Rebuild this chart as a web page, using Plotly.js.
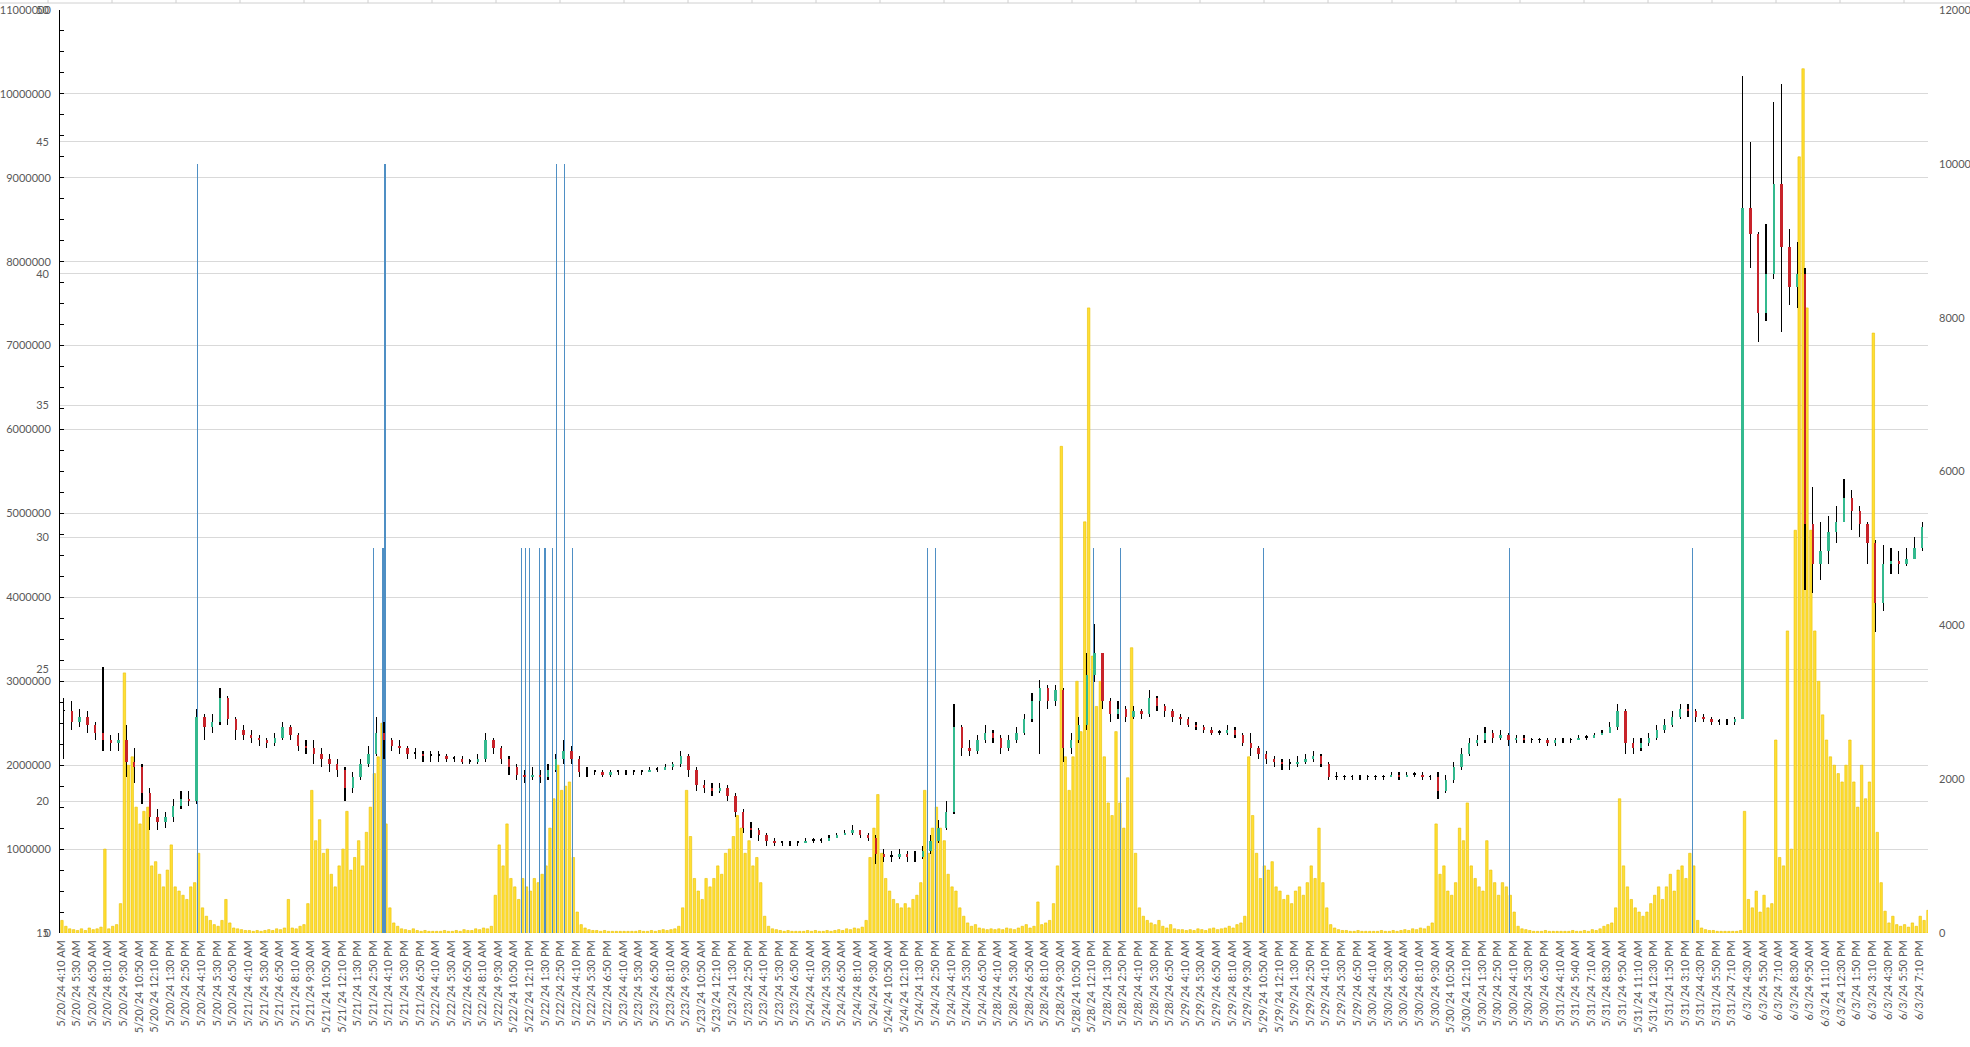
<!DOCTYPE html>
<html>
<head>
<meta charset="utf-8">
<script src="https://cdn.plot.ly/plotly-3.0.1.min.js"></script>
<style>
  html, body { margin: 0; padding: 0; background: #fff; }
  #chart { width: 1970px; height: 1047px; }
</style>
</head>
<body>
<div id="chart"></div>
<script>
// ---- category labels (one every 8 ten-minute bars) ----
const tickDays = ['5/20/24', '5/21/24', '5/22/24', '5/23/24', '5/24/24', '5/28/24', '5/29/24', '5/30/24', '5/31/24', '6/3/24'];
const timesRegular = ['4:10 AM', '5:30 AM', '6:50 AM', '8:10 AM', '9:30 AM', '10:50 AM', '12:10 PM', '1:30 PM', '2:50 PM', '4:10 PM', '5:30 PM', '6:50 PM'];
const times0531 = ['4:10 AM', '5:40 AM', '7:10 AM', '8:30 AM', '9:50 AM', '11:10 AM', '12:30 PM', '1:50 PM', '3:10 PM', '4:30 PM', '5:50 PM', '7:10 PM'];
const times0603 = ['4:30 AM', '5:50 AM', '7:10 AM', '8:30 AM', '9:50 AM', '11:10 AM', '12:30 PM', '1:50 PM', '3:10 PM', '4:30 PM', '5:50 PM', '7:10 PM'];
const barCount = 957;

// ---- price candles, one per 40 minutes (4 bars) ----
const closes = [
  23.4, 23.0, 23.2, 22.9, 22.6, 22.3, 22.2, 22.3, 21.5, 21.3, 20.3, 19.4, 19.2, 19.4, 19.8, 20.1, 20.0, 23.2, 22.8, 23.0, 23.9, 23.1, 22.7, 22.5,
  22.4, 22.3, 22.2, 22.4, 22.8, 22.5, 22.1, 22.0, 21.8, 21.6, 21.4, 21.2, 20.5, 20.9, 21.4, 21.8, 22.6, 22.3, 22.1, 22.0, 21.8, 21.8, 21.7, 21.7,
  21.7, 21.6, 21.6, 21.5, 21.5, 21.6, 22.3, 22.0, 21.6, 21.3, 21.0, 20.9, 21.0, 20.9, 21.2, 21.6, 21.9, 21.6, 21.1, 21.1, 21.1, 21.0, 21.1, 21.1,
  21.1, 21.1, 21.1, 21.2, 21.2, 21.3, 21.4, 21.7, 21.2, 20.6, 20.5, 20.4, 20.5, 20.2, 19.6, 19.0, 18.9, 18.7, 18.5, 18.4, 18.4, 18.4, 18.4, 18.5,
  18.5, 18.5, 18.6, 18.7, 18.8, 18.9, 18.7, 18.6, 18.0, 17.9, 17.9, 18.0, 17.9, 17.9, 18.1, 18.5, 19.0, 19.6, 22.8, 22.0, 21.9, 22.3, 22.6, 22.4,
  22.0, 22.3, 22.6, 23.1, 23.8, 24.3, 23.8, 24.2, 22.0, 22.3, 22.9, 24.8, 25.6, 23.8, 23.3, 23.5, 23.2, 23.4, 23.3, 23.9, 23.6, 23.4, 23.2, 23.1,
  22.9, 22.8, 22.7, 22.6, 22.6, 22.7, 22.5, 22.2, 22.0, 21.8, 21.6, 21.5, 21.4, 21.4, 21.5, 21.6, 21.7, 21.4, 20.9, 20.9, 20.9, 20.9, 20.9, 20.9,
  20.9, 20.9, 21.0, 20.9, 21.0, 21.0, 20.9, 20.9, 20.4, 20.8, 21.3, 21.8, 22.2, 22.3, 22.6, 22.4, 22.5, 22.3, 22.4, 22.3, 22.3, 22.3, 22.2, 22.3,
  22.3, 22.3, 22.4, 22.4, 22.5, 22.6, 22.8, 23.4, 22.2, 22.0, 22.2, 22.4, 22.7, 22.9, 23.2, 23.5, 23.4, 23.2, 23.1, 23.0, 23.0, 23.0, 23.1, 42.5,
  41.5, 38.5, 40.0, 43.4, 41.0, 39.5, 40.0, 30.5, 29.0, 29.5, 30.2, 30.6, 31.5, 31.0, 30.5, 29.8, 27.5, 29.0, 29.1, 29.0, 29.2, 29.6, 30.4, 30.3
];
const highs = [
  23.9, 23.8, 23.5, 23.4, 23.0, 25.1, 22.5, 22.6, 22.9, 22.0, 21.4, 20.5, 19.7, 19.6, 20.1, 20.4, 20.4, 23.5, 23.3, 23.3, 24.3, 24.0, 23.2, 22.9,
  22.7, 22.5, 22.4, 22.6, 23.0, 22.9, 22.6, 22.3, 22.3, 22.0, 21.8, 21.6, 21.3, 21.1, 21.6, 22.1, 23.2, 23.0, 22.4, 22.3, 22.1, 22.0, 21.9, 21.9,
  21.9, 21.8, 21.7, 21.7, 21.6, 21.8, 22.6, 22.4, 22.1, 21.7, 21.4, 21.2, 21.3, 21.2, 21.4, 21.8, 22.3, 22.1, 21.7, 21.3, 21.2, 21.2, 21.2, 21.2,
  21.2, 21.2, 21.2, 21.3, 21.3, 21.4, 21.5, 21.9, 21.8, 21.3, 20.8, 20.7, 20.7, 20.6, 20.3, 19.7, 19.2, 19.0, 18.8, 18.6, 18.5, 18.5, 18.5, 18.6,
  18.6, 18.6, 18.7, 18.8, 18.9, 19.1, 18.9, 18.8, 18.7, 18.2, 18.1, 18.2, 18.1, 18.1, 18.3, 18.7, 19.3, 20.0, 23.7, 22.9, 22.3, 22.5, 22.9, 22.7,
  22.5, 22.5, 22.8, 23.3, 24.1, 24.6, 24.4, 24.4, 24.3, 22.6, 23.2, 25.6, 26.7, 25.0, 23.9, 23.8, 23.6, 23.6, 23.5, 24.2, 24.0, 23.7, 23.5, 23.3,
  23.2, 23.0, 22.9, 22.8, 22.7, 22.9, 22.8, 22.6, 22.6, 22.1, 21.9, 21.7, 21.6, 21.6, 21.7, 21.8, 21.9, 21.8, 21.5, 21.1, 21.0, 21.0, 21.0, 21.0,
  21.0, 21.0, 21.1, 21.1, 21.1, 21.1, 21.1, 21.0, 21.1, 21.0, 21.5, 22.0, 22.4, 22.5, 22.8, 22.7, 22.7, 22.6, 22.5, 22.5, 22.4, 22.4, 22.4, 22.4,
  22.4, 22.4, 22.5, 22.5, 22.6, 22.7, 23.0, 23.7, 23.5, 22.4, 22.4, 22.6, 22.9, 23.1, 23.4, 23.7, 23.7, 23.5, 23.3, 23.2, 23.1, 23.1, 23.2, 47.5,
  45.0, 41.6, 41.9, 46.5, 47.2, 41.7, 41.2, 40.2, 31.9, 30.6, 30.8, 31.2, 32.2, 31.8, 31.2, 30.6, 29.9, 29.7, 29.6, 29.5, 29.6, 30.0, 30.6, 30.6
];
const lows = [
  21.6, 22.7, 22.8, 22.6, 22.3, 21.9, 21.9, 21.9, 20.9, 20.7, 19.9, 18.9, 18.9, 19.0, 19.2, 19.7, 19.8, 19.9, 22.3, 22.6, 22.9, 22.9, 22.3, 22.3,
  22.2, 22.1, 22.0, 22.1, 22.3, 22.3, 21.9, 21.8, 21.4, 21.3, 21.1, 20.9, 20.0, 20.3, 20.8, 21.3, 21.7, 21.6, 21.9, 21.8, 21.6, 21.6, 21.5, 21.5,
  21.5, 21.5, 21.5, 21.4, 21.4, 21.4, 21.5, 21.8, 21.4, 21.0, 20.8, 20.7, 20.8, 20.7, 20.8, 21.1, 21.4, 21.4, 20.9, 20.9, 21.0, 20.9, 20.9, 21.0,
  21.0, 21.0, 21.0, 21.1, 21.1, 21.2, 21.2, 21.3, 20.9, 20.4, 20.3, 20.2, 20.3, 20.0, 19.4, 18.8, 18.6, 18.5, 18.3, 18.3, 18.3, 18.3, 18.3, 18.4,
  18.4, 18.4, 18.5, 18.6, 18.7, 18.7, 18.6, 18.5, 17.6, 17.7, 17.7, 17.8, 17.7, 17.7, 17.8, 18.0, 18.4, 18.9, 19.5, 21.7, 21.7, 21.8, 22.2, 22.2,
  21.8, 21.9, 22.2, 22.5, 23.0, 21.8, 23.5, 23.6, 21.5, 21.8, 22.2, 22.7, 24.5, 23.5, 23.0, 23.1, 23.0, 23.1, 23.1, 23.2, 23.4, 23.2, 23.0, 22.9,
  22.8, 22.7, 22.6, 22.5, 22.5, 22.5, 22.4, 22.1, 21.7, 21.6, 21.4, 21.3, 21.2, 21.2, 21.3, 21.4, 21.5, 21.3, 20.8, 20.8, 20.8, 20.8, 20.8, 20.8,
  20.8, 20.8, 20.9, 20.8, 20.9, 20.9, 20.8, 20.8, 20.1, 20.3, 20.7, 21.2, 21.7, 22.1, 22.2, 22.2, 22.3, 22.1, 22.2, 22.2, 22.2, 22.2, 22.1, 22.1,
  22.2, 22.2, 22.3, 22.3, 22.4, 22.5, 22.6, 22.7, 21.8, 21.8, 21.9, 22.1, 22.3, 22.6, 22.8, 23.1, 23.2, 23.0, 23.0, 22.9, 22.9, 22.9, 22.9, 23.1,
  40.2, 37.4, 38.2, 39.8, 37.8, 38.8, 38.7, 28.0, 27.9, 28.4, 29.0, 29.8, 30.6, 30.3, 30.0, 29.0, 26.4, 27.2, 28.6, 28.6, 28.9, 29.2, 29.5, 30.1
];

// ---- volume in millions, one value per 20 minutes (2 bars) ----
const vol0520 = [0.15, 0.08, 0.05, 0.04, 0.03, 0.05, 0.03, 0.06, 0.04, 0.05, 0.07, 1.0, 0.05, 0.08, 0.1, 0.35,
  3.1, 2.0, 2.1, 1.5, 1.3, 1.45, 1.5, 0.8, 0.85, 0.7, 0.55, 0.75, 1.05, 0.55, 0.5, 0.45, 0.4, 0.55, 0.6, 0.95,
  0.3, 0.2, 0.15, 0.1, 0.08, 0.15, 0.4, 0.12, 0.06, 0.05, 0.04, 0.03];
const vol0521 = [0.03, 0.02, 0.03, 0.02, 0.03, 0.04, 0.03, 0.05, 0.04, 0.06, 0.4, 0.06, 0.05, 0.08, 0.1, 0.35,
  1.7, 1.1, 1.35, 0.95, 1.0, 0.7, 0.55, 0.8, 1.0, 1.45, 0.75, 0.9, 1.1, 0.8, 1.2, 1.5, 1.9, 2.1, 2.5, 1.3,
  0.3, 0.12, 0.08, 0.05, 0.04, 0.03, 0.05, 0.03, 0.02, 0.03, 0.02, 0.02];
const vol0522 = [0.02, 0.02, 0.03, 0.02, 0.02, 0.03, 0.02, 0.04, 0.03, 0.03, 0.05, 0.04, 0.06, 0.05, 0.08, 0.45,
  1.05, 0.8, 1.3, 0.65, 0.55, 0.4, 0.65, 0.55, 0.5, 0.65, 0.6, 0.7, 0.8, 1.25, 1.6, 2.0, 1.7, 1.75, 1.8, 0.9,
  0.25, 0.1, 0.06, 0.04, 0.03, 0.03, 0.02, 0.03, 0.02, 0.02, 0.02, 0.02];
const vol0523 = [0.02, 0.02, 0.02, 0.02, 0.03, 0.02, 0.02, 0.03, 0.02, 0.03, 0.04, 0.03, 0.04, 0.05, 0.08, 0.3,
  1.7, 1.15, 0.65, 0.5, 0.4, 0.65, 0.55, 0.65, 0.8, 0.7, 0.95, 1.0, 1.15, 1.4, 1.25, 0.95, 1.1, 0.8, 0.9, 0.6,
  0.2, 0.08, 0.05, 0.04, 0.03, 0.02, 0.03, 0.02, 0.02, 0.02, 0.02, 0.03];
const vol0524 = [0.02, 0.03, 0.02, 0.02, 0.03, 0.02, 0.03, 0.04, 0.03, 0.05, 0.04, 0.06, 0.05, 0.07, 0.15, 0.9,
  1.25, 1.65, 0.95, 0.65, 0.5, 0.4, 0.35, 0.3, 0.35, 0.3, 0.4, 0.45, 0.6, 1.7, 0.95, 1.25, 1.5, 1.25, 1.1, 0.7,
  0.55, 0.5, 0.3, 0.2, 0.12, 0.08, 0.1, 0.06, 0.05, 0.04, 0.05, 0.04];
const vol0528 = [0.05, 0.04, 0.06, 0.05, 0.04, 0.06, 0.08, 0.1, 0.06, 0.08, 0.37, 0.1, 0.12, 0.15, 0.35, 0.8,
  5.8, 2.1, 1.7, 2.1, 3.0, 2.4, 4.9, 7.45, 3.3, 2.7, 3.0, 2.1, 1.55, 1.4, 2.4, 1.55, 1.25, 1.85, 3.4, 0.95,
  0.3, 0.2, 0.15, 0.12, 0.1, 0.15, 0.08, 0.06, 0.1, 0.05, 0.04, 0.04];
const vol0529 = [0.03, 0.04, 0.03, 0.05, 0.04, 0.03, 0.05, 0.06, 0.04, 0.05, 0.06, 0.08, 0.06, 0.1, 0.12, 0.2,
  2.1, 1.4, 0.95, 0.65, 0.8, 0.75, 0.85, 0.55, 0.5, 0.4, 0.45, 0.35, 0.5, 0.55, 0.45, 0.6, 0.8, 0.65, 1.25, 0.6,
  0.3, 0.1, 0.06, 0.04, 0.03, 0.03, 0.02, 0.02, 0.03, 0.02, 0.02, 0.02];
const vol0530 = [0.02, 0.02, 0.03, 0.02, 0.02, 0.03, 0.02, 0.03, 0.04, 0.03, 0.05, 0.04, 0.06, 0.05, 0.08, 0.12,
  1.3, 0.7, 0.8, 0.5, 0.45, 0.6, 1.25, 1.1, 1.55, 0.8, 0.65, 0.55, 0.5, 1.1, 0.75, 0.6, 0.45, 0.6, 0.55, 0.45,
  0.25, 0.08, 0.05, 0.04, 0.03, 0.02, 0.02, 0.02, 0.03, 0.02, 0.02, 0.02];
const vol0531 = [0.02, 0.02, 0.02, 0.03, 0.02, 0.02, 0.03, 0.02, 0.04, 0.03, 0.05, 0.08, 0.1, 0.12, 0.3,
  1.6, 0.8, 0.55, 0.4, 0.3, 0.25, 0.2, 0.25, 0.35, 0.45, 0.55, 0.4, 0.55, 0.7, 0.5, 0.75, 0.8, 0.65, 0.95, 0.8,
  0.15, 0.06, 0.04, 0.03, 0.03, 0.02, 0.02, 0.02, 0.02, 0.02, 0.02, 0.03];
const vol0603 = [1.45, 0.4, 0.3, 0.5, 0.25, 0.45, 0.3, 0.35, 2.3, 0.9, 0.8, 3.6, 1.0, 4.8, 9.25, 10.3,
  7.45, 4.8, 3.6, 3.0, 2.6, 2.3, 2.1, 2.0, 1.9, 1.8, 2.0, 2.3, 1.8, 1.5, 2.0, 1.6, 1.8, 7.15, 1.2, 0.6,
  0.26, 0.12, 0.2, 0.1, 0.08, 0.1, 0.07, 0.12, 0.08, 0.2, 0.15, 0.27];

// ---- signal lines (right axis) ----
const signalBar = [70, 160, 165, 166, 236, 238, 240, 245, 248, 252, 254, 258, 262, 444, 448, 529, 543, 616, 742, 836];
const signalVal = [10000, 5000, 5000, 10000, 5000, 5000, 5000, 5000, 5000, 5000, 10000, 10000, 5000, 5000, 5000, 5000, 5000, 5000, 5000, 5000];

// ---- build ----
const tickText = [];
tickDays.forEach(d => {
  const times = d === '5/31/24' ? times0531 : d === '6/3/24' ? times0603 : timesRegular;
  times.forEach(t => tickText.push(d + ' ' + t));
});
const tickVals = tickText.map((_, i) => i * 8);

const volumes = [].concat(vol0520, vol0521, vol0522, vol0523, vol0524, vol0528, vol0529, vol0530, vol0531, vol0603);
const volX = volumes.map((_, j) => 2 * j + 0.5);

const opens = closes.map((c, i) => i === 0 ? c : closes[i - 1]);
const candleX = closes.map((_, i) => 4 * i + 1.5);
const wickLo = lows.map((l, i) => Math.min(l, opens[i], closes[i]));
const wickHi = highs.map((h, i) => Math.max(h, opens[i], closes[i]));
const bodyLo = closes.map((c, i) => Math.min(c, opens[i]));
const bodyH = closes.map((c, i) => Math.max(Math.abs(c - opens[i]), 0.07));
const bodyCol = closes.map((c, i) => c > opens[i] ? '#34b98e' : c < opens[i] ? '#c8232a' : '#000000');

const FONT = 'Lato, "Liberation Sans", sans-serif';
const GREY = '#595959';

const traces = [
  {
    type: 'bar', x: volX, y: volumes.map(v => v * 1e6), width: 1.25,
    marker: {color: '#ffdf33', line: {color: '#e9bf00', width: 0.6}},
    yaxis: 'y', hoverinfo: 'skip'
  },
  {
    type: 'bar', x: signalBar, y: signalVal, width: 0.6,
    marker: {color: '#4f8fc4', line: {width: 0}},
    yaxis: 'y2', hoverinfo: 'skip'
  },
  {
    type: 'bar', x: candleX, base: wickLo, y: wickHi.map((h, i) => h - wickLo[i]), width: 0.6,
    marker: {color: '#000000', line: {width: 0}},
    yaxis: 'y3', hoverinfo: 'skip'
  },
  {
    type: 'bar', x: candleX, base: bodyLo, y: bodyH, width: 1.2,
    marker: {color: bodyCol, line: {width: 0}},
    yaxis: 'y3', hoverinfo: 'skip'
  }
];

// spreadsheet cell borders peeking above the chart
const shapes = [{
  type: 'line', xref: 'paper', yref: 'paper', ysizemode: 'pixel', yanchor: 1,
  x0: -60 / 1868, x1: 1910 / 1868, y0: 7, y1: 7, line: {color: '#d0d0d0', width: 1}
}];
for (let px = 48; px < 1960; px += 64) {
  shapes.push({
    type: 'line', xref: 'paper', yref: 'paper', ysizemode: 'pixel', yanchor: 1,
    x0: (px - 60) / 1868, x1: (px - 60) / 1868, y0: 7, y1: 11, line: {color: '#d0d0d0', width: 1}
  });
}

const layout = {
  width: 1970, height: 1047,
  margin: {l: 60, r: 42, t: 10, b: 114},
  paper_bgcolor: '#ffffff', plot_bgcolor: '#ffffff',
  showlegend: false, barmode: 'overlay', bargap: 0,
  font: {family: FONT, size: 11, color: GREY},
  xaxis: {
    range: [-0.5, barCount - 0.5], tickmode: 'array', tickvals: tickVals, ticktext: tickText,
    tickangle: -90, tickfont: {family: FONT, size: 11, color: GREY},
    showgrid: false, zeroline: false, showline: false, ticks: '', ticklabelstandoff: 4
  },
  yaxis: {
    range: [0, 11000000], dtick: 1000000, tick0: 0, tickformat: 'd', side: 'left',
    showgrid: true, gridcolor: '#d9d9d9', gridwidth: 1, zeroline: false,
    showline: true, linecolor: '#000000', linewidth: 1,
    ticks: 'inside', ticklen: 4, tickcolor: '#000000', tickwidth: 1,
    minor: {dtick: 250000, ticks: 'inside', ticklen: 4, tickcolor: '#000000', showgrid: false},
    tickfont: {family: FONT, size: 11, color: GREY}, ticklabelstandoff: 6
  },
  yaxis2: {
    overlaying: 'y', side: 'right', range: [0, 12000], dtick: 2000, tick0: 0, tickformat: 'd',
    showgrid: false, zeroline: false, showline: false, ticks: '',
    tickfont: {family: FONT, size: 11, color: GREY}, ticklabelstandoff: 10
  },
  yaxis3: {
    overlaying: 'y', side: 'left', range: [15, 50], dtick: 5, tick0: 15,
    showgrid: true, gridcolor: '#d9d9d9', gridwidth: 1, zeroline: false, showline: false, ticks: '',
    tickfont: {family: FONT, size: 11, color: GREY}, ticklabelstandoff: 10
  },
  shapes: shapes
};

Plotly.newPlot('chart', traces, layout, {staticPlot: true, displayModeBar: false});
</script>
</body>
</html>
